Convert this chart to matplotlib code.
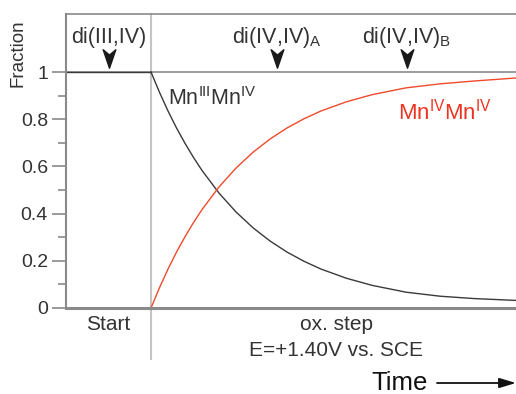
import matplotlib.pyplot as plt
from matplotlib.path import Path

plt.rcParams["font.family"] = ["Liberation Sans", "DejaVu Sans"]
plt.rcParams["mathtext.fontset"] = "custom"
plt.rcParams["mathtext.rm"] = "Liberation Sans"
plt.rcParams["mathtext.it"] = "Liberation Sans"

# time axis: -1..0 is the "Start" period, the oxidation step begins at 0
t_start = [-1.0, 0.0]
frac_start = [1.0, 1.0]

t = [0.0, 0.1, 0.2, 0.3, 0.4, 0.5, 0.6, 0.8, 1.0, 1.2, 1.4, 1.6, 1.8,
     2.0, 2.3, 2.6, 3.0, 3.4, 3.8, 4.3]
mn3mn4 = [1.0, 0.914, 0.835, 0.763, 0.698, 0.638, 0.583, 0.487, 0.407,
          0.340, 0.284, 0.237, 0.198, 0.165, 0.126, 0.096, 0.067, 0.050,
          0.040, 0.032]
mn4mn4 = [0.0, 0.086, 0.165, 0.237, 0.302, 0.362, 0.417, 0.513, 0.593,
          0.660, 0.716, 0.763, 0.802, 0.835, 0.874, 0.904, 0.933, 0.950,
          0.962, 0.975]

species = ["di(III,IV)", r"di(IV,IV)$_{\rm A}$", r"di(IV,IV)$_{\rm B}$"]
species_t = [-0.5, 1.48, 3.01]

red = "#ee3322"
gray = "#8a8a8a"
txt = "#333333"

fig = plt.figure(figsize=(5.16, 3.94), dpi=100)
ax = fig.add_axes([66 / 516, 1 - 308 / 394, 450 / 516, 294 / 394])

ax.plot(t_start, frac_start, color="#3a3a3a", lw=1.0)
ax.plot(t, mn3mn4, color="#3a3a3a", lw=1.0)
ax.plot(t, mn4mn4, color="#f04a2c", lw=1.0)

ax.axhline(1.0, color=gray, lw=1.2, zorder=1)
ax.axvline(0.0, ymin=-0.173, ymax=1, color="#c4c4c4", lw=1.5,
           clip_on=False, zorder=0)

ax.set_xlim(-1, 4.294)
ax.set_ylim(0, 1.246)

ax.spines["right"].set_visible(False)
ax.spines["left"].set_color(gray)
ax.spines["left"].set_linewidth(1.5)
ax.spines["top"].set_color(gray)
ax.spines["top"].set_linewidth(1.2)
ax.spines["bottom"].set_color(gray)
ax.spines["bottom"].set_linewidth(2.2)

ax.set_xticks([])
ax.set_yticks([0, 0.2, 0.4, 0.6, 0.8, 1.0])
ax.set_yticklabels(["0", "0.2", "0.4", "0.6", "0.8", "1"])
ax.set_yticks([0.1, 0.3, 0.5, 0.7, 0.9], minor=True)
ax.tick_params(axis="y", which="major", length=10, width=1.2, color=gray,
               labelsize=14, labelcolor=txt, pad=3)
ax.tick_params(axis="y", which="minor", length=6, width=1.2, color=gray)

fig.text(17.5 / 516, 1 - 53 / 394, "Fraction", rotation=90, ha="center",
         va="center", fontsize=13.5, color=txt)

# arrowhead markers for the species
head = Path([(0, -1), (-0.65, 0.9), (0, 0.35), (0.65, 0.9), (0, -1)],
            [Path.MOVETO, Path.LINETO, Path.LINETO, Path.LINETO,
             Path.CLOSEPOLY])
for name, x in zip(species, species_t):
    ax.plot(x, 1.06, marker=head, markersize=14, color="#1a1a1a",
            clip_on=False)
    ax.text(x, 1.123, name, ha="center", va="baseline", fontsize=15.5,
            color=txt)

ax.text(0.2, 0.86, r"Mn$^{\rm III}$Mn$^{\rm IV}$", fontsize=15.5, color=txt,
        ha="left", va="baseline")
ax.text(2.9, 0.80, r"Mn$^{\rm IV}$Mn$^{\rm IV}$", fontsize=16, color=red,
        ha="left", va="baseline")

fig.text(108 / 516, 1 - 325 / 394, "Start", ha="center", va="center",
         fontsize=15, color=txt)
fig.text(337 / 516, 1 - 325 / 394, "ox. step", ha="center", va="center",
         fontsize=15, color=txt)
fig.text(336 / 516, 1 - 350 / 394, "E=+1.40V vs. SCE", ha="center",
         va="center", fontsize=15, color=txt)
fig.text(428 / 516, 1 - 383 / 394, "Time", ha="right", va="center",
         fontsize=18.5, color="#111111")
fig.add_artist(plt.Annotation("", xy=(516 / 516, 1 - 383 / 394),
                              xytext=(437 / 516, 1 - 383 / 394),
                              xycoords="figure fraction",
                              arrowprops=dict(arrowstyle="-|>,head_length=1.0,head_width=0.3",
                                              color="#111111", lw=1.3,
                                              shrinkA=0, shrinkB=0)))

fig.savefig("out.png", dpi=100)
